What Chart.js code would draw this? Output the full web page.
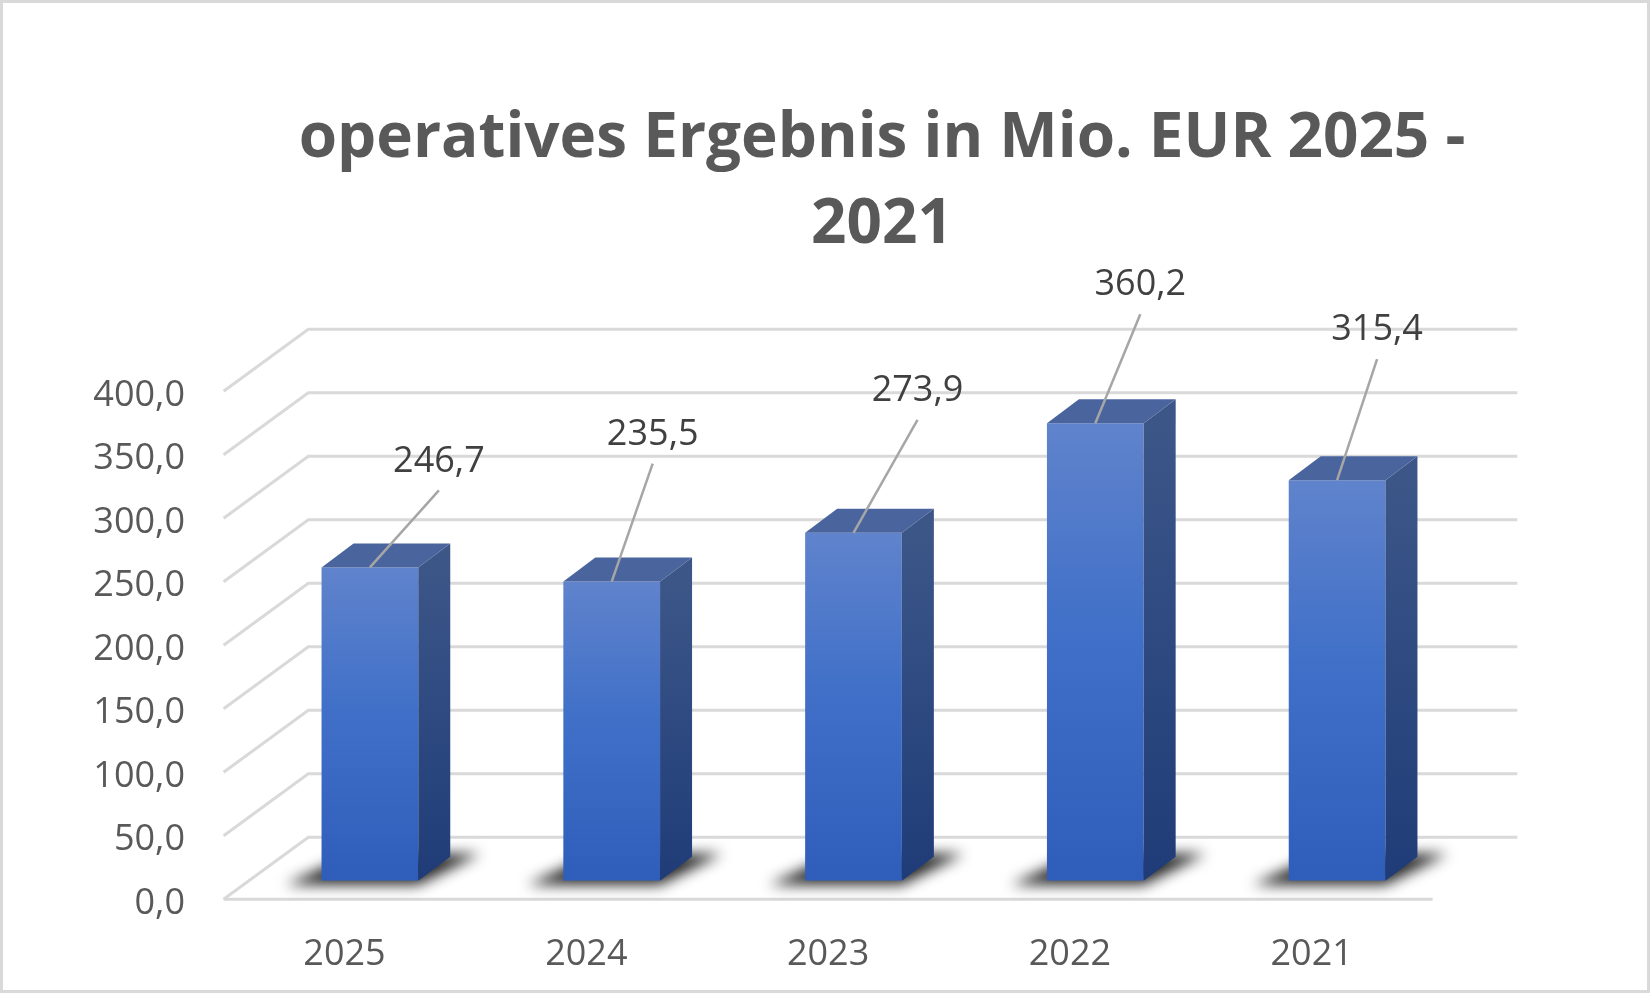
<!DOCTYPE html>
<html lang="de">

<head>
    <meta charset="UTF-8">
    <title>operatives Ergebnis in Mio. EUR 2025 - 2021</title>
    <script src="https://cdn.jsdelivr.net/npm/chart.js"></script>
    <style>
        html, body { margin: 0; padding: 0; background: #fff; }
        .wrap { position: relative; width: 1650px; height: 993px; overflow: hidden; }
        .frame { position: absolute; inset: 0; border: 3px solid #d9d9d9; box-sizing: border-box; pointer-events: none; }
        .title {
            position: absolute; top: 90px; left: 882px; width: 1500px;
            transform: translateX(-50%); text-align: center;
            font: 700 62px/86px "Open Sans", sans-serif; color: #595959;
        }
    </style>
</head>

<body>
    <div class="wrap">
        <canvas id="chart"></canvas>
        <div class="title">operatives Ergebnis in Mio. EUR 2025 -<br>2021</div>
        <div class="frame"></div>
    </div>

    <script>
        // Daten
        const years = ['2025', '2024', '2023', '2022', '2021'];
        const ergebnis = [246.7, 235.5, 273.9, 360.2, 315.4];
        const yMin = 0;
        const yMax = 400;
        const yStep = 50;

        // Lage der Datenbeschriftungen relativ zur Säulenoberkante (wie in Excel verschoben)
        const labelShift = [[69, -109], [41, -150], [64, -145], [45, -141], [40, -153]];

        // 3D-Geometrie
        const DEPTH = { x: 84.7, y: -62 };      // volle Tiefe der Bodenfläche
        const FRONT = { x: -25.4, y: 18.6 };    // Vorderkante relativ zur Säulenebene
        const BACK = { x: DEPTH.x + FRONT.x, y: DEPTH.y + FRONT.y };
        const BAR_D = { x: 32, y: -24 };        // Tiefe der Säulen

        const fmt = v => v.toFixed(1).replace('.', ',');

        function frontFill(c) {
            const chart = c.chart;
            if (!chart.chartArea || c.raw == null) return '#3a6cc8';
            const y = chart.scales.y;
            const g = chart.ctx.createLinearGradient(0, y.getPixelForValue(c.raw), 0, y.getPixelForValue(0));
            g.addColorStop(0, '#6083cc');
            g.addColorStop(0.45, '#4070c8');
            g.addColorStop(1, '#2e5eba');
            return g;
        }

        const bars3d = {
            id: 'bars3d',
            beforeDatasetsDraw(chart) {
                const { ctx, chartArea: a, scales: { y } } = chart;
                ctx.save();
                ctx.strokeStyle = '#d9d9d9';
                ctx.lineWidth = 3;
                y.ticks.forEach(t => {
                    const py = y.getPixelForValue(t.value);
                    ctx.beginPath();
                    ctx.moveTo(a.left + FRONT.x, py + FRONT.y);
                    ctx.lineTo(a.left + BACK.x, py + BACK.y);
                    ctx.lineTo(a.right + BACK.x, py + BACK.y);
                    ctx.stroke();
                });
                // Vorderkante des Bodens
                const p0 = y.getPixelForValue(yMin);
                ctx.beginPath();
                ctx.moveTo(a.left + FRONT.x, p0 + FRONT.y);
                ctx.lineTo(a.right + FRONT.x, p0 + FRONT.y);
                ctx.stroke();

                // Schatten
                ctx.filter = 'blur(7px)';
                ctx.fillStyle = 'rgba(0,0,0,0.85)';
                chart.getDatasetMeta(0).data.forEach(bar => {
                    const l = bar.x - bar.width / 2, r = bar.x + bar.width / 2, b = bar.base;
                    ctx.beginPath();
                    ctx.moveTo(l - 36, b + 4);
                    ctx.lineTo(r, b + 4);
                    ctx.lineTo(r + BAR_D.x + 30, b + BAR_D.y - 3);
                    ctx.lineTo(l + BAR_D.x, b + BAR_D.y - 3);
                    ctx.closePath();
                    ctx.fill();
                });
                ctx.restore();
            },
            afterDatasetsDraw(chart) {
                const ctx = chart.ctx;
                ctx.save();
                chart.getDatasetMeta(0).data.forEach((bar, i) => {
                    const l = bar.x - bar.width / 2, r = bar.x + bar.width / 2;
                    const t = bar.y, b = bar.base;

                    // Seitenfläche
                    const sg = ctx.createLinearGradient(0, t, 0, b);
                    sg.addColorStop(0, '#3c5688');
                    sg.addColorStop(1, '#1f3c78');
                    ctx.fillStyle = sg;
                    ctx.beginPath();
                    ctx.moveTo(r, t);
                    ctx.lineTo(r + BAR_D.x, t + BAR_D.y);
                    ctx.lineTo(r + BAR_D.x, b + BAR_D.y);
                    ctx.lineTo(r, b);
                    ctx.closePath();
                    ctx.fill();

                    // Deckfläche
                    ctx.fillStyle = '#4a649e';
                    ctx.beginPath();
                    ctx.moveTo(l, t);
                    ctx.lineTo(l + BAR_D.x, t + BAR_D.y);
                    ctx.lineTo(r + BAR_D.x, t + BAR_D.y);
                    ctx.lineTo(r, t);
                    ctx.closePath();
                    ctx.fill();

                    // Führungslinie und Beschriftung
                    const [sx, sy] = labelShift[i];
                    ctx.strokeStyle = '#a6a6a6';
                    ctx.lineWidth = 2.5;
                    ctx.beginPath();
                    ctx.moveTo(bar.x, t);
                    ctx.lineTo(bar.x + sx, t + sy + 32);
                    ctx.stroke();

                    ctx.fillStyle = '#404040';
                    ctx.font = '36px "Open Sans"';
                    ctx.textAlign = 'center';
                    ctx.textBaseline = 'middle';
                    ctx.fillText(fmt(ergebnis[i]), bar.x + sx, t + sy + 3);
                });
                ctx.restore();
            }
        };

        Chart.defaults.font.family = '"Open Sans", sans-serif';

        new Chart(document.getElementById('chart'), {
            type: 'bar',
            data: {
                labels: years,
                datasets: [{
                    label: 'operatives Ergebnis',
                    data: ergebnis,
                    backgroundColor: frontFill,
                    borderWidth: 0,
                    barPercentage: 0.4,
                    categoryPercentage: 1
                }]
            },
            options: {
                responsive: true,
                maintainAspectRatio: false,
                animation: false,
                layout: { padding: { top: 372.7, right: 192, left: 0, bottom: 0 } },
                plugins: {
                    legend: { display: false },
                    tooltip: { enabled: false }
                },
                scales: {
                    x: {
                        grid: { display: false, drawTicks: false },
                        border: { display: false },
                        ticks: { color: '#595959', font: { size: 36 }, padding: 52, labelOffset: FRONT.x },
                        afterFit: s => { s.height = 112.3; }
                    },
                    y: {
                        min: yMin,
                        max: yMax,
                        grid: { display: false, drawTicks: false },
                        border: { display: false },
                        ticks: {
                            stepSize: yStep,
                            color: '#595959',
                            font: { size: 36 },
                            padding: 64,
                            labelOffset: FRONT.y + 4,
                            callback: v => fmt(v)
                        },
                        afterFit: s => { s.width = 249; }
                    }
                }
            },
            plugins: [bars3d]
        });
    </script>
</body>

</html>
